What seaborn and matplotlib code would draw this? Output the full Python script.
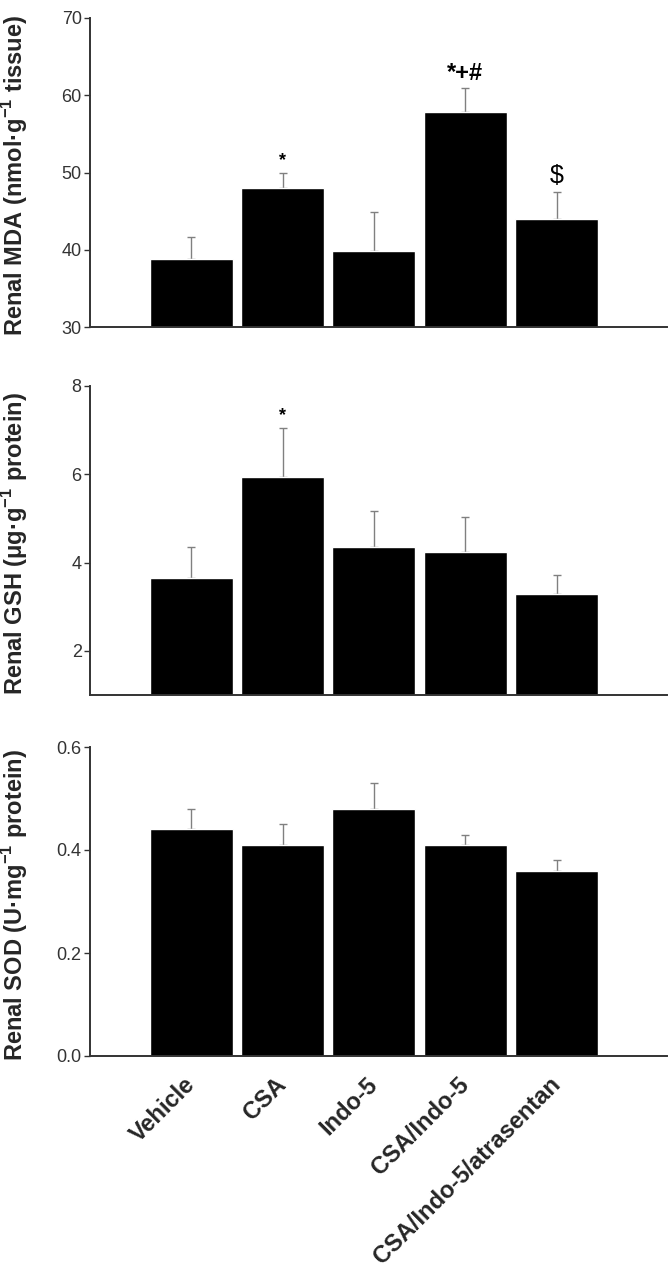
import matplotlib
matplotlib.use("Agg")
import matplotlib.pyplot as plt
import numpy as np
import pandas as pd
import seaborn as sns

groups = ["Vehicle", "CSA", "Indo-5", "CSA/Indo-5", "CSA/Indo-5/atrasentan"]

mda_mean = [38.8, 48.0, 39.8, 57.8, 44.0]
mda_err = [2.8, 2.0, 5.1, 3.1, 3.5]
mda_marks = ["", "*", "", "*+#", "$"]

gsh_mean = [3.64, 5.94, 4.35, 4.23, 3.29]
gsh_err = [0.71, 1.11, 0.82, 0.80, 0.43]
gsh_marks = ["", "*", "", "", ""]

sod_mean = [0.44, 0.41, 0.48, 0.41, 0.36]
sod_err = [0.04, 0.04, 0.05, 0.02, 0.02]

sns.set_style("ticks")
plt.rcParams['font.family'] = ['Liberation Sans', 'DejaVu Sans']
plt.rcParams['mathtext.fontset'] = 'custom'
plt.rcParams['mathtext.rm'] = 'Liberation Sans'
plt.rcParams['mathtext.bf'] = 'Liberation Sans:bold'

fig = plt.figure(figsize=(6.7, 12.7), dpi=100)

left, width, height = 90 / 670, 577 / 670, 309 / 1270
bottoms = [1 - 327 / 1270, 1 - 695 / 1270, 1 - 1056 / 1270]

panels = [
    (r"Renal MDA (nmol·g$^{\mathbf{-1}}$ tissue)", mda_mean, mda_err, (30, 70), [30, 40, 50, 60, 70], mda_marks),
    (r"Renal GSH (μg·g$^{\mathbf{-1}}$ protein)", gsh_mean, gsh_err, (1, 8), [2, 4, 6, 8], gsh_marks),
    (r"Renal SOD (U·mg$^{\mathbf{-1}}$ protein)", sod_mean, sod_err, (0, 0.6), [0.0, 0.2, 0.4, 0.6], None),
]

mark_style = {"*": dict(fontsize=13, fontweight="bold"),
              "*+#": dict(fontsize=17, fontweight="bold"),
              "$": dict(fontsize=18)}

for i, (label, mean, err, ylim, yticks, marks) in enumerate(panels):
    ax = fig.add_axes([left, bottoms[i], width, height])
    df = pd.DataFrame({"group": groups, "value": mean})
    sns.barplot(data=df, x="group", y="value", color="black", saturation=1,
                width=0.91, errorbar=None, ax=ax, zorder=2)
    x = np.arange(len(groups))
    ax.errorbar(x, mean, yerr=[np.zeros(len(err)), err], fmt="none",
                ecolor="#808080", elinewidth=1.0, capsize=3, capthick=1.0, zorder=1)
    ax.set_xlim(-1.11, 5.21)
    ax.set_ylim(*ylim)
    ax.set_yticks(yticks)
    if i == 2:
        ax.set_yticklabels([f"{t:.1f}" for t in yticks])
    ax.tick_params(axis="y", labelsize=13, length=4, width=1.0, color="#333333",
                   labelcolor="#333333", pad=2)
    ax.set_ylabel(label, fontsize=17, fontweight="bold")
    ax.yaxis.set_label_coords(-0.104, 0.49)
    ax.set_xlabel("")
    sns.despine(ax=ax)
    for side in ["left", "bottom"]:
        ax.spines[side].set_color("#333333")
        ax.spines[side].set_linewidth(1.4)
    if i < 2:
        ax.tick_params(axis="x", length=0, labelbottom=False)
    else:
        ax.tick_params(axis="x", length=0, pad=18)
        ax.set_xticks(x)
        ax.set_xticklabels(groups, rotation=45, ha="right", va="center",
                           rotation_mode="anchor", fontsize=17, fontweight="bold")
    if marks:
        span = ylim[1] - ylim[0]
        for xi, (m, e, mk) in enumerate(zip(mean, err, marks)):
            if mk:
                ax.text(xi, m + e + 0.012 * span, mk, ha="center", va="bottom",
                        color="black", **mark_style[mk])

fig.savefig("out.png", dpi=100)
